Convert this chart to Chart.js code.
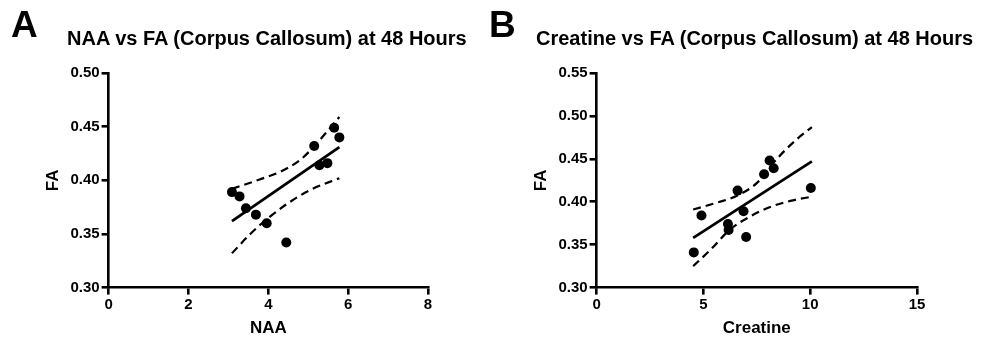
<!DOCTYPE html>
<html>
<head>
<meta charset="utf-8">
<script src="https://cdn.jsdelivr.net/npm/chart.js@4/dist/chart.umd.min.js"></script>
<style>
    body { margin: 0; background: #fff; font-family: "Liberation Sans", Arial, sans-serif; }
    #wrap { position: relative; width: 982px; height: 343px; overflow: hidden; }
    .panel { position: absolute; top: 0; width: 491px; height: 343px; }
    .letter { position: absolute; font-weight: bold; font-size: 37px; line-height: 37px; color: #000; }
    .title { position: absolute; font-weight: bold; font-size: 20px; line-height: 20px; color: #000; white-space: nowrap; }
</style>
</head>
<body>
<div id="wrap">
    <div class="panel" style="left:0"><canvas id="chartA" width="491" height="343"></canvas></div>
    <div class="panel" style="left:491px"><canvas id="chartB" width="491" height="343"></canvas></div>
    <div class="letter" style="left:11px; top:6px">A</div>
    <div class="title" style="left:67px; top:28px">NAA vs FA (Corpus Callosum) at 48 Hours</div>
    <div class="letter" style="left:489px; top:6px">B</div>
    <div class="title" style="left:536px; top:28px">Creatine vs FA (Corpus Callosum) at 48 Hours</div>
</div>
<script>
// Panel A: NAA vs FA
const naaX = [3.09, 3.28, 3.44, 3.69, 3.96, 4.45, 5.15, 5.28, 5.48, 5.65, 5.78];
const naaFA = [0.389, 0.385, 0.374, 0.368, 0.360, 0.342, 0.432, 0.414, 0.416, 0.449, 0.440];
const naaFitX = [3.09, 5.78];
const naaFitY = [0.362, 0.431];
const naaUpperX = [3.09, 3.80, 4.30, 4.80, 5.13, 5.78];
const naaUpperY = [0.392, 0.401, 0.408, 0.419, 0.431, 0.459];
const naaLowerX = [3.09, 3.55, 3.97, 4.47, 5.05, 5.78];
const naaLowerY = [0.332, 0.350, 0.364, 0.378, 0.391, 0.402];

// Panel B: Creatine vs FA
const creX = [4.55, 4.91, 6.15, 6.18, 6.60, 6.88, 7.00, 7.84, 8.10, 8.29, 10.03];
const creFA = [0.341, 0.384, 0.374, 0.367, 0.413, 0.389, 0.359, 0.432, 0.448, 0.439, 0.416];
const creFitX = [4.52, 10.08];
const creFitY = [0.358, 0.447];
const creUpperX = [4.52, 5.64, 6.57, 7.51, 8.44, 9.38, 10.08];
const creUpperY = [0.391, 0.399, 0.407, 0.422, 0.450, 0.473, 0.487];
const creLowerX = [4.52, 5.33, 6.26, 7.20, 8.13, 9.07, 10.08];
const creLowerY = [0.325, 0.344, 0.368, 0.383, 0.394, 0.401, 0.406];

const tickFont = { family: "Liberation Sans", weight: "bold", size: 15 };
const axisTitleFont = { family: "Liberation Sans", weight: "bold", size: 17 };

function pairs(xs, ys) {
    return xs.map((x, i) => ({ x: x, y: ys[i] }));
}

function lineSet(xs, ys, dashed) {
    return {
        type: "line",
        data: pairs(xs, ys),
        borderColor: "#000",
        borderWidth: dashed ? 2.2 : 2.8,
        borderDash: dashed ? [8, 5] : [],
        pointRadius: 0,
        fill: false,
        tension: dashed ? 0.4 : 0,
        cubicInterpolationMode: dashed ? "monotone" : "default"
    };
}

function makePanel(canvasId, pad, xs, ys, fit, upper, lower, xMax, xStep, yMax, xTitle) {
    let ctx = document.getElementById(canvasId).getContext("2d");
    return new Chart(ctx, {
        type: "scatter",
        data: {
            datasets: [
                lineSet(upper[0], upper[1], true),
                lineSet(lower[0], lower[1], true),
                lineSet(fit[0], fit[1], false),
                {
                    data: pairs(xs, ys),
                    backgroundColor: "#000",
                    borderWidth: 0,
                    pointRadius: 5
                }
            ]
        },
        options: {
            responsive: false,
            animation: false,
            layout: { padding: pad },
            plugins: {
                legend: { display: false },
                tooltip: { enabled: false }
            },
            scales: {
                x: {
                    type: "linear",
                    min: 0,
                    max: xMax,
                    border: { color: "#000", width: 2.6 },
                    grid: { drawOnChartArea: false, color: "#000", lineWidth: 2.6, tickLength: 7 },
                    ticks: { stepSize: xStep, color: "#000", font: tickFont, padding: 1, maxRotation: 0 },
                    title: { display: true, text: xTitle, color: "#000", font: axisTitleFont, padding: { top: 4, bottom: 1 } }
                },
                y: {
                    min: 0.30,
                    max: yMax,
                    border: { color: "#000", width: 2.6 },
                    grid: { drawOnChartArea: false, color: "#000", lineWidth: 2.6, tickLength: 7 },
                    ticks: {
                        stepSize: 0.05,
                        color: "#000",
                        font: tickFont,
                        padding: 2,
                        callback: v => v.toFixed(2)
                    },
                    title: { display: true, text: "FA", color: "#000", font: axisTitleFont, padding: { top: 0, bottom: 5 } }
                }
            }
        }
    });
}

makePanel("chartA", { left: 43, right: 63, top: 73, bottom: 3 },
    naaX, naaFA, [naaFitX, naaFitY], [naaUpperX, naaUpperY], [naaLowerX, naaLowerY],
    8, 2, 0.50, "NAA");

makePanel("chartB", { left: 40, right: 65, top: 73, bottom: 3 },
    creX, creFA, [creFitX, creFitY], [creUpperX, creUpperY], [creLowerX, creLowerY],
    15, 5, 0.55, "Creatine");
</script>
</body>
</html>
